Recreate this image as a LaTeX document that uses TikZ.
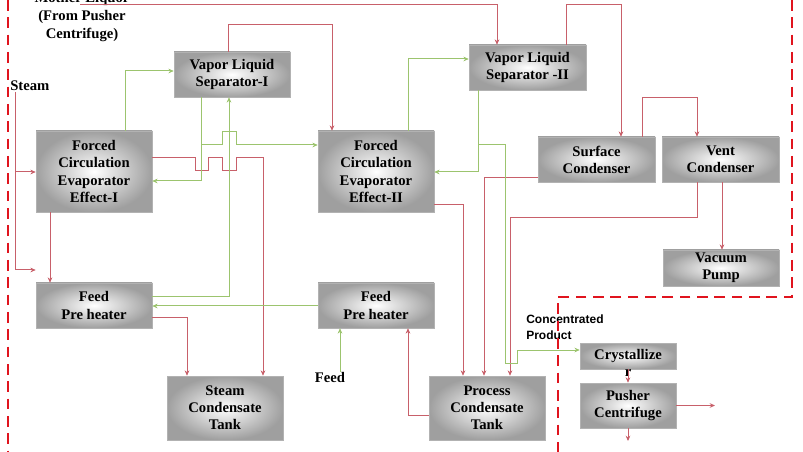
\documentclass[tikz,border=0pt]{standalone}
\usepackage{fontspec}
\setmainfont{Liberation Serif}
\newfontfamily\sansf{Liberation Sans}
\usetikzlibrary{arrows.meta}
\definecolor{rl}{HTML}{C8606A}
\definecolor{gl}{HTML}{9CC46E}
\definecolor{dr}{HTML}{E0141E}
\begin{document}
\begin{tikzpicture}[x=0.75pt,y=-0.75pt,
 box/.style={draw=gray!60,shading=radial,inner color=white,outer color=gray!75,font=\bfseries\fontsize{11}{12.8}\selectfont,align=center,inner sep=1pt},
 r/.style={draw=rl,line width=0.75pt,-{Stealth[length=4pt,width=3.5pt]}},
 rn/.style={draw=rl,line width=0.75pt},
 g/.style={draw=gl,line width=0.75pt,-{Stealth[length=4pt,width=3.5pt]}},
 gn/.style={draw=gl,line width=0.75pt},
 lbl/.style={font=\bfseries\fontsize{11}{13.5}\selectfont,align=center,inner sep=0pt}]
\useasboundingbox (0,0) rectangle (803,452);
\node[box,minimum width=87pt,minimum height=33.75pt] (vls1) at (232,74.5) {Vapor Liquid\\Separator-I};
\node[box,minimum width=87.75pt,minimum height=33.75pt] (vls2) at (527.5,67.5) {Vapor Liquid\\Separator -II};
\node[box,minimum width=87pt,minimum height=60.75pt] (fce1) at (94,171.5) {Forced\\Circulation\\Evaporator\\Effect-I};
\node[box,minimum width=87pt,minimum height=60.75pt] (fce2) at (376,171.5) {Forced\\Circulation\\Evaporator\\Effect-II};
\node[box,minimum width=87.75pt,minimum height=33.75pt] (sc) at (596.5,159.5) {Surface\\Condenser};
\node[box,minimum width=87.75pt,minimum height=33.75pt] (vc) at (720.5,159.5) {Vent\\Condenser};
\node[box,minimum width=87pt,minimum height=27pt] (vp) at (721,268) {Vacuum\\Pump};
\node[box,minimum width=87pt,minimum height=33.75pt] (fphl) at (94,305.5) {Feed\\Pre heater};
\node[box,minimum width=87pt,minimum height=33.75pt] (fphr) at (376,305.5) {Feed\\Pre heater};
\node[box,minimum width=87pt,minimum height=48pt] (sct) at (225,408) {Steam\\Condensate\\Tank};
\node[box,minimum width=87pt,minimum height=48pt] (pct) at (487,408) {Process\\Condensate\\Tank};
\node[box,minimum width=72pt,minimum height=19.5pt] (cry) at (628,356) {Crystallize};
\node[lbl] (cryr) at (628,373) {r};
\node[box,minimum width=72pt,minimum height=33.75pt] (push) at (628,405.5) {Pusher\\Centrifuge};
% labels
\node[lbl] (ml) at (82,17) {Mother Liquor\\(From Pusher\\Centrifuge)};
\node[lbl,anchor=west] (steam) at (10,86) {Steam};
\node[lbl] (feed) at (330,377) {Feed};
\node[font=\sansf\bfseries\fontsize{9}{12}\selectfont,align=left,anchor=west,inner sep=0pt] (cp) at (526,327) {Concentrated\\Product};
\coordinate (mls) at (80,5);
% dashed boundary
\draw[dr,line width=1.6pt,dash pattern=on 8pt off 5pt] (8,0) -- (8,452);
\draw[dr,line width=1.6pt,dash pattern=on 8pt off 5pt] (792,0) -- (792,297) -- (558,297) -- (558,452);
% red connectors
\draw[r] (mls) -- (497,5) -- (497,0 |- vls2.north);
\draw[r] (228,0 |- vls1.north) -- (228,25) -- (332,25) -- (332,0 |- fce2.north);
\draw[r] (566,0 |- vls2.north) -- (566,5) -- (621,5) -- (621,0 |- sc.north);
\draw[r] (642,0 |- sc.north) -- (642,98) -- (697,98) -- (697,0 |- vc.north);
\draw[rn] (15,92) -- (15,270);
\draw[r] (15,172) -- (fce1.west |- 0,172);
\draw[r] (15,270) -- (fphl.west |- 0,270);
\draw[r] (50,0 |- fce1.south) -- (50,0 |- fphl.north);
\draw[r] (fce1.east |- 0,158) -- (195,158) -- (195,171) -- (208,171) -- (208,158) -- (222,158) -- (222,171) -- (236,171) -- (236,158) -- (263,158) -- (263,0 |- sct.north);
\draw[r] (fce2.east |- 0,205) -- (463,205) -- (463,0 |- pct.north);
\draw[r] (sc.west |- 0,178) -- (484,178) -- (484,0 |- pct.north);
\draw[r] (697,0 |- vc.south) -- (697,218) -- (510,218) -- (510,0 |- pct.north);
\draw[r] (722,0 |- vc.south) -- (722,0 |- vp.north);
\draw[r] (fphl.east |- 0,317) -- (187,317) -- (187,0 |- sct.north);
\draw[r] (pct.west |- 0,415) -- (408,415) -- (408,0 |- fphr.south);
\draw[r] (cry.south) -- (push.north);
\draw[r] (push.east) -- (715,0 |- push.east);
\draw[r] (push.south) -- (628,441);
% green connectors
\draw[g] (125,0 |- fce1.north) -- (125,71) -- (vls1.west |- 0,71);
\draw[g] (201,0 |- vls1.south) -- (201,181) -- (fce1.east |- 0,181);
\draw[g] (201,145) -- (222,145) -- (222,132) -- (236,132) -- (236,145) -- (fce2.west |- 0,145);
\draw[g] (fphl.east |- 0,297) -- (229,297) -- (229,0 |- vls1.south);
\draw[g] (408,0 |- fce2.north) -- (408,59) -- (vls2.west |- 0,59);
\draw[g] (478,0 |- vls2.south) -- (478,172) -- (fce2.east |- 0,172);
\draw[g] (478,145) -- (505,145) -- (505,363) -- (517,363) -- (517,350) -- (cry.west |- 0,350);
\draw[g] (fphr.west |- 0,306) -- (fphl.east |- 0,306);
\draw[g] (feed.north -| 340,0) -- (340,0 |- fphr.south);
\end{tikzpicture}
\end{document}
